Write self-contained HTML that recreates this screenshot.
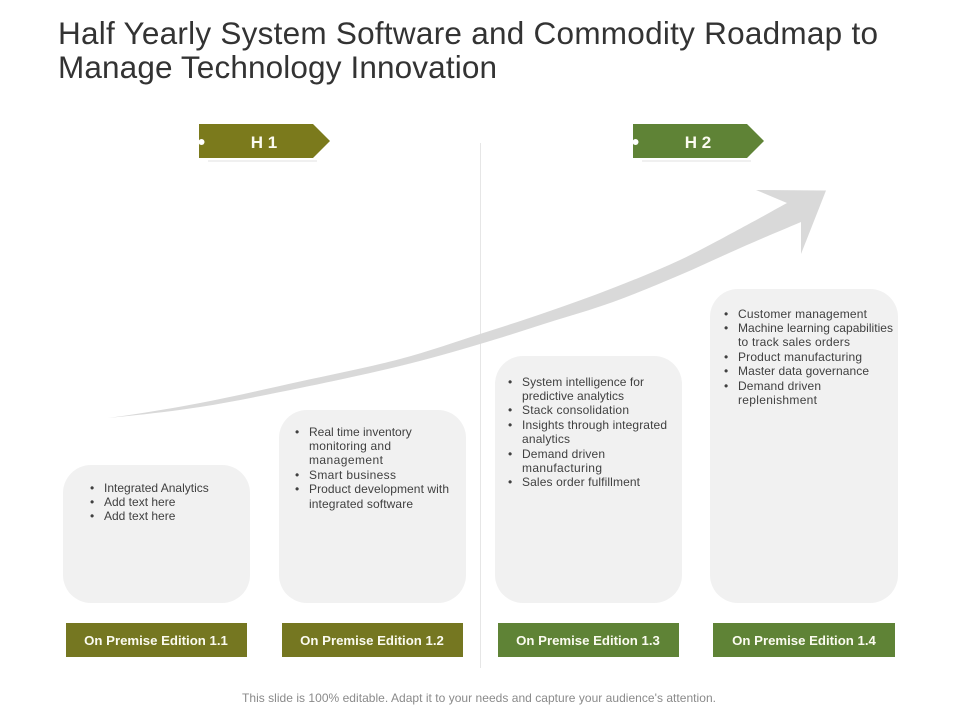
<!DOCTYPE html>
<html>
<head>
<meta charset="utf-8">
<style>
html,body{margin:0;padding:0;background:#fff;}
svg{display:block;}
text{font-family:"Liberation Sans",sans-serif;}
.t{font-size:31.5px;fill:#333333;}
.b{font-size:12px;fill:#404040;}
.l{font-size:13.2px;font-weight:bold;fill:#fbfbf0;text-anchor:middle;}
.h{font-size:17px;font-weight:bold;fill:#fbfbf0;text-anchor:middle;}
</style>
</head>
<body>
<svg width="960" height="720" viewBox="0 0 960 720" xmlns="http://www.w3.org/2000/svg">
<rect width="960" height="720" fill="#fff"/>

<text class="t" x="58" y="44" textLength="820" lengthAdjust="spacing">Half Yearly System Software and Commodity Roadmap to</text>
<text class="t" x="58" y="78" textLength="439" lengthAdjust="spacing">Manage Technology Innovation</text>

<line x1="480.5" y1="143" x2="480.5" y2="668" stroke="#e6e6e6" stroke-width="1"/>

<path d="M108 418 C138 414,168 409.100,200 403 C232 396.900,266.700 388.800,300 381.500 C333.300 374.200,370 366.900,400 359 C430 351.100,455.500 341.800,480 334 C504.500 326.200,524.800 319.700,547 312 C569.200 304.300,590.800 296.700,613 288 C635.200 279.300,657.700 270.500,680 260 C702.300 249.500,729.200 234.500,747 225 C764.800 215.500,774 210,787 203 L756 190 L826 190.500 L801 254 L801 222 C783 229.700,767.200 236.200,747 245 C726.800 253.800,702.300 265.500,680 275 C657.700 284.500,635.200 294,613 302 C590.800 310,569.200 316,547 323 C524.800 330,504.500 336.800,480 344 C455.500 351.200,430 358.700,400 366 C370 373.300,333.300 381.200,300 388 C266.700 394.800,232 402,200 407 C168 412,138 415,108 418 Z" fill="#d9d9d9"/>

<rect x="208" y="160" width="109" height="2" fill="#f0f0f0"/>
<path d="M199 124 H313 L330 141 L313 158 H199 Z" fill="#7b7a1c"/>
<circle cx="201.500" cy="142" r="3" fill="#fff"/>
<text class="h" x="264" y="148">H 1</text>

<rect x="642" y="160" width="109" height="2" fill="#f0f0f0"/>
<path d="M633 124 H747 L764 141 L747 158 H633 Z" fill="#5f8336"/>
<circle cx="635.500" cy="142" r="3" fill="#fff"/>
<text class="h" x="698" y="148">H 2</text>

<rect x="63" y="465" width="187" height="138" rx="28" fill="#f1f1f1"/>
<rect x="279" y="410" width="187" height="193" rx="28" fill="#f1f1f1"/>
<rect x="495" y="356" width="187" height="247" rx="28" fill="#f1f1f1"/>
<rect x="710" y="289" width="188" height="314" rx="28" fill="#f1f1f1"/>

<g class="b">
<text class="b" x="90" y="492">•</text><text class="b" x="104" y="492">Integrated Analytics</text>
<text class="b" x="90" y="506">•</text><text class="b" x="104" y="506">Add text here</text>
<text class="b" x="90" y="520">•</text><text class="b" x="104" y="520">Add text here</text>

<text class="b" x="295" y="436">•</text><text class="b" x="309" y="436">Real time inventory</text>
<text class="b" x="309" y="450" textLength="82">monitoring and</text>
<text class="b" x="309" y="464" textLength="74">management</text>
<text class="b" x="295" y="479">•</text><text class="b" x="309" y="479" textLength="87">Smart business</text>
<text class="b" x="295" y="493">•</text><text class="b" x="309" y="493" textLength="140">Product development with</text>
<text class="b" x="309" y="508" textLength="104">integrated software</text>

<text class="b" x="508" y="386">•</text><text class="b" x="522" y="386" textLength="122">System intelligence for</text>
<text class="b" x="522" y="400" textLength="102">predictive analytics</text>
<text class="b" x="508" y="414">•</text><text class="b" x="522" y="414" textLength="107">Stack consolidation</text>
<text class="b" x="508" y="429">•</text><text class="b" x="522" y="429" textLength="145">Insights through integrated</text>
<text class="b" x="522" y="443" textLength="48">analytics</text>
<text class="b" x="508" y="458">•</text><text class="b" x="522" y="458" textLength="83">Demand driven</text>
<text class="b" x="522" y="472" textLength="80">manufacturing</text>
<text class="b" x="508" y="486">•</text><text class="b" x="522" y="486" textLength="118">Sales order fulfillment</text>

<text class="b" x="724" y="318">•</text><text class="b" x="738" y="318" textLength="129">Customer management</text>
<text class="b" x="724" y="332">•</text><text class="b" x="738" y="332" textLength="155">Machine learning capabilities</text>
<text class="b" x="738" y="346" textLength="112">to track sales orders</text>
<text class="b" x="724" y="361">•</text><text class="b" x="738" y="361" textLength="124">Product manufacturing</text>
<text class="b" x="724" y="375">•</text><text class="b" x="738" y="375" textLength="131">Master data governance</text>
<text class="b" x="724" y="390">•</text><text class="b" x="738" y="390" textLength="83">Demand driven</text>
<text class="b" x="738" y="404" textLength="79">replenishment</text>
</g>

<rect x="66" y="623" width="181" height="34" fill="#757721"/>
<rect x="282" y="623" width="181" height="34" fill="#757721"/>
<rect x="498" y="623" width="181" height="34" fill="#5f8336"/>
<rect x="713" y="623" width="182" height="34" fill="#5f8336"/>
<text class="l" x="156" y="645">On Premise Edition 1.1</text>
<text class="l" x="372" y="645">On Premise Edition 1.2</text>
<text class="l" x="588" y="645">On Premise Edition 1.3</text>
<text class="l" x="804" y="645">On Premise Edition 1.4</text>

<text x="242" y="702" font-size="12" fill="#8a8a8a" textLength="474">This slide is 100% editable. Adapt it to your needs and capture your audience's attention.</text>
</svg>
</body>
</html>
